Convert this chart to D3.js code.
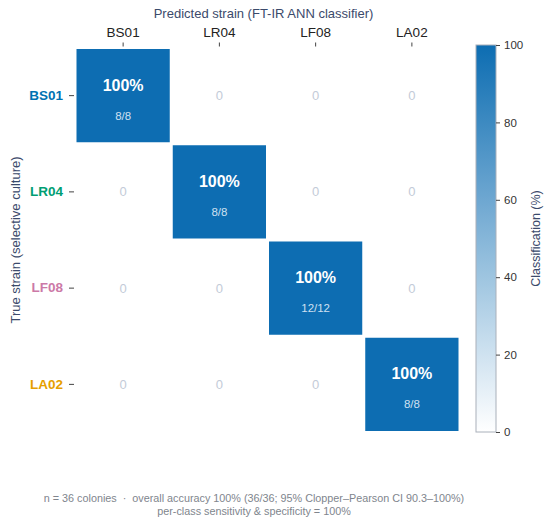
<!DOCTYPE html>
<html>
<head>
<meta charset="utf-8">
<script src="https://cdn.jsdelivr.net/npm/d3@7"></script>
<style>
  html, body { margin: 0; padding: 0; background: #fff; }
  svg { display: block; font-family: "Liberation Sans", Arial, sans-serif; }
</style>
</head>
<body>
<svg id="chart" width="550" height="528"></svg>
<script>
// Confusion matrix: true strain (rows) vs predicted strain (columns)
const strains = ["BS01", "LR04", "LF08", "LA02"];
const strainColors = ["#0072b2", "#009e73", "#cc79a7", "#e69f00"];
const counts = [
  [8, 0, 0, 0],
  [0, 8, 0, 0],
  [0, 0, 12, 0],
  [0, 0, 0, 8]
];
const colorTicks = [0, 20, 40, 60, 80, 100];
const footerLines = [
  "n = 36 colonies  \u00b7  overall accuracy 100% (36/36; 95% Clopper\u2013Pearson CI 90.3\u2013100%)",
  "per-class sensitivity & specificity = 100%"
];

const svg = d3.select("#chart");
const navy = "#3b4a6b";

const grid = { left: 75, top: 47.5, size: 385 };
const x = d3.scaleBand().domain(strains).range([grid.left, grid.left + grid.size]);
const y = d3.scaleBand().domain(strains).range([grid.top, grid.top + grid.size]);
const color = d3.scaleLinear().domain([0, 100]).range(["#ffffff", "#0d6db2"]);

// flatten matrix into cells
const cells = [];
counts.forEach((row, i) => {
  const total = d3.sum(row);
  row.forEach((c, j) => {
    cells.push({ row: strains[i], col: strains[j], n: c, total, pct: total ? c / total * 100 : 0 });
  });
});

const cell = svg.append("g").selectAll("g")
  .data(cells)
  .join("g")
  .attr("transform", d => `translate(${x(d.col)},${y(d.row)})`);

cell.append("rect")
  .attr("x", 1.5).attr("y", 1.5)
  .attr("width", x.bandwidth() - 3)
  .attr("height", y.bandwidth() - 3)
  .attr("fill", d => color(d.pct));

const bw = x.bandwidth();
cell.filter(d => d.n > 0).append("text")
  .attr("x", bw / 2).attr("y", bw / 2 - 5)
  .attr("text-anchor", "middle")
  .attr("fill", "#fff")
  .attr("font-weight", "bold")
  .attr("font-size", 16)
  .text(d => `${Math.round(d.pct)}%`);

cell.filter(d => d.n > 0).append("text")
  .attr("x", bw / 2).attr("y", bw / 2 + 24)
  .attr("text-anchor", "middle")
  .attr("fill", "#cfe0f1")
  .attr("font-size", 11.5)
  .text(d => `${d.n}/${d.total}`);

cell.filter(d => d.n === 0).append("text")
  .attr("x", bw / 2).attr("y", bw / 2 + 4.5)
  .attr("text-anchor", "middle")
  .attr("fill", "#c3cbd8")
  .attr("font-size", 13)
  .text(d => d.n);

// top axis
const xAxis = svg.append("g")
  .attr("transform", `translate(0,${grid.top - 1})`)
  .call(d3.axisTop(x).tickSize(4).tickPadding(6))
  .attr("font-family", null);
xAxis.select(".domain").remove();
xAxis.selectAll(".tick line").attr("stroke", "#444");
xAxis.selectAll(".tick text")
  .attr("font-size", 13.5).attr("fill", "#222");

svg.append("text")
  .attr("x", grid.left + grid.size / 2 - 4).attr("y", 18)
  .attr("text-anchor", "middle")
  .attr("fill", navy).attr("font-size", 13)
  .text("Predicted strain (FT-IR ANN classifier)");

// left axis
const yAxis = svg.append("g")
  .attr("transform", `translate(${grid.left - 1},0)`)
  .call(d3.axisLeft(y).tickSize(5).tickPadding(6))
  .attr("font-family", null);
yAxis.select(".domain").remove();
yAxis.selectAll(".tick line").attr("stroke", "#444");
yAxis.selectAll(".tick text")
  .attr("font-size", 13.5).attr("font-weight", "bold")
  .attr("fill", (d, i) => strainColors[i]);

svg.append("text")
  .attr("transform", `translate(20,${grid.top + grid.size / 2}) rotate(-90)`)
  .attr("text-anchor", "middle")
  .attr("fill", navy).attr("font-size", 13)
  .text("True strain (selective culture)");

// colour bar
const cb = { x: 476, y: 45, w: 20, h: 387 };
const defs = svg.append("defs");
const grad = defs.append("linearGradient")
  .attr("id", "cbgrad").attr("x1", 0).attr("y1", 1).attr("x2", 0).attr("y2", 0);
grad.selectAll("stop")
  .data(colorTicks)
  .join("stop")
  .attr("offset", d => d / 100)
  .attr("stop-color", d => color(d));

svg.append("rect")
  .attr("x", cb.x).attr("y", cb.y)
  .attr("width", cb.w).attr("height", cb.h)
  .attr("fill", "url(#cbgrad)")
  .attr("stroke", "#a9b0ba").attr("stroke-width", 1);

const cbScale = d3.scaleLinear().domain([0, 100]).range([cb.y + cb.h, cb.y]);
const cbAxis = svg.append("g")
  .attr("transform", `translate(${cb.x + cb.w},0)`)
  .call(d3.axisRight(cbScale).tickValues(colorTicks).tickSize(4).tickPadding(4))
  .attr("font-family", null);
cbAxis.select(".domain").remove();
cbAxis.selectAll(".tick line").attr("stroke", "#444");
cbAxis.selectAll(".tick text")
  .attr("font-size", 11.5).attr("fill", "#333");

svg.append("text")
  .attr("transform", `translate(540,${cb.y + cb.h / 2}) rotate(-90)`)
  .attr("text-anchor", "middle")
  .attr("fill", navy).attr("font-size", 12.5)
  .text("Classification (%)");

// footer
svg.append("g").selectAll("text")
  .data(footerLines)
  .join("text")
  .attr("x", 254).attr("y", (d, i) => 502 + i * 12.5)
  .attr("text-anchor", "middle")
  .attr("fill", "#80858d").attr("font-size", 10.8)
  .style("white-space", "pre")
  .text(d => d);
</script>
</body>
</html>
